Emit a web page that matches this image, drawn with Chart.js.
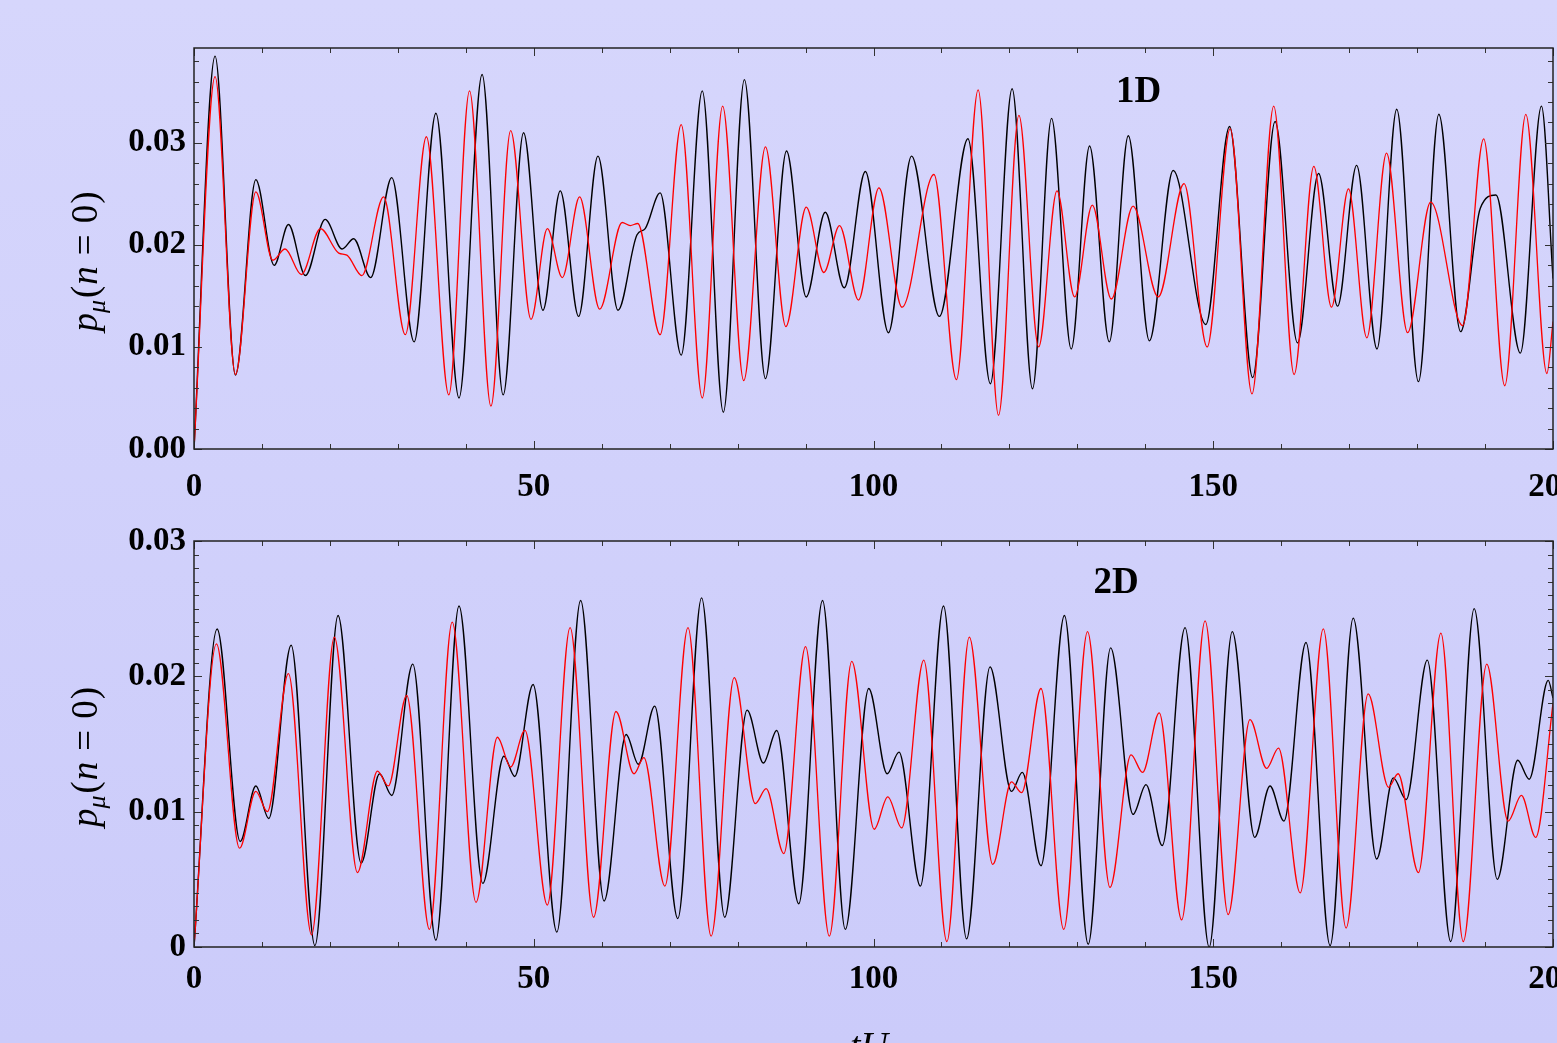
<!DOCTYPE html>
<html>
<head>
<meta charset="utf-8">
<script src="https://cdn.jsdelivr.net/npm/chart.js@4.4.1/dist/chart.umd.min.js"></script>
<style>
  html, body { margin: 0; padding: 0; }
  body {
    width: 1557px; height: 1043px; overflow: hidden; position: relative;
    background: linear-gradient(#d6d6fc, #cbcbfa);
  }
  canvas { position: absolute; left: 0; }
  #c1 { top: 0; }
  #c2 { top: 520px; }
</style>
</head>
<body>
<canvas id="c1" width="1557" height="520"></canvas>
<canvas id="c2" width="1557" height="523"></canvas>
<script>
// turning points of each curve (t, p)
const t1dBlack = [0, 3.1, 6.1, 9.1, 11.8, 13.9, 16.4, 19.3, 21.8, 23.5, 26.0, 29.1, 32.4, 35.6, 39.0, 42.4, 45.5, 48.5, 51.35, 53.9, 56.6, 59.45, 62.4, 65.2, 66.4, 68.6, 71.7, 74.8, 77.9, 81.0, 84.1, 87.2, 90.1, 92.9, 95.7, 98.8, 102.2, 105.6, 109.7, 113.9, 117.2, 120.4, 123.4, 126.2, 129.1, 131.8, 134.7, 137.5, 140.6, 144.1, 148.9, 152.4, 155.8, 159.1, 162.4, 165.5, 168.3, 171.1, 174.1, 177.0, 180.2, 183.2, 186.4, 189.3, 191.6, 195.2, 198.3, 200];
const p1dBlack = [0, .0385, .00725, .0264, .0180, .0220, .0170, .0225, .0196, .0206, .0168, .0266, .0105, .0329, .0050, .0367, .0053, .0310, .0136, .0253, .0130, .0287, .0136, .0210, .0216, .0251, .0092, .0351, .0036, .0362, .0069, .0292, .0149, .0232, .0158, .0272, .0114, .0287, .0130, .0304, .0064, .0353, .0059, .0324, .0098, .0297, .0105, .0307, .0106, .0273, .0122, .0316, .0070, .0321, .0104, .0270, .0140, .0278, .0098, .0333, .0066, .0328, .0115, .0236, .0249, .0094, .0336, .0167];

const t1dRed = [0, 3.1, 6.1, 9.1, 11.6, 13.4, 15.8, 18.6, 21.3, 22.5, 24.7, 27.9, 31.1, 34.2, 37.5, 40.55, 43.7, 46.6, 49.6, 52.0, 54.2, 56.75, 59.7, 63.0, 64.2, 65.3, 68.6, 71.7, 74.8, 77.8, 80.9, 84.1, 87.1, 90.1, 92.7, 95.0, 97.8, 100.8, 104.2, 108.9, 112.2, 115.4, 118.4, 121.4, 124.3, 127.0, 129.6, 132.2, 135.0, 138.2, 141.9, 145.7, 149.1, 152.5, 155.7, 158.9, 161.9, 164.8, 167.4, 169.9, 172.6, 175.5, 178.6, 182.0, 186.7, 189.8, 192.9, 196.0, 199.1, 200];
const p1dRed = [0, .0365, .0073, .0252, .0185, .0196, .0171, .0216, .0192, .0190, .0170, .0247, .0112, .0306, .0053, .0351, .0042, .0312, .0127, .0216, .0168, .0247, .0137, .0222, .0219, .0221, .0112, .0318, .0050, .0336, .0067, .0296, .0120, .0237, .0173, .0219, .0146, .0256, .0139, .0269, .0068, .0352, .0033, .0327, .0100, .0253, .0149, .0239, .0147, .0238, .0149, .0260, .0100, .0314, .0054, .0336, .0073, .0277, .0139, .0255, .0109, .0290, .0114, .0242, .0121, .0304, .0062, .0328, .0074, .0125];

const t2dBlack = [0, 3.4, 6.8, 9.1, 11.0, 14.3, 17.8, 21.2, 24.6, 27.3, 29.1, 32.2, 35.6, 39.0, 42.5, 45.6, 47.2, 49.9, 53.4, 56.9, 60.35, 63.6, 65.4, 67.8, 71.2, 74.7, 78.1, 81.4, 83.8, 85.75, 89.0, 92.5, 95.85, 99.3, 102.0, 103.75, 106.9, 110.3, 113.7, 117.15, 120.3, 121.9, 124.65, 128.1, 131.6, 134.9, 138.2, 140.1, 142.5, 145.85, 149.4, 152.8, 156.1, 158.35, 160.4, 163.65, 167.2, 170.6, 174.05, 176.5, 178.4, 181.5, 184.95, 188.4, 191.8, 194.8, 196.5, 199.3, 200];
const p2dBlack = [0, .0235, .0078, .0119, .0095, .0223, .0001, .0245, .0062, .0128, .0112, .0209, .0005, .0252, .0047, .0141, .0126, .0194, .0011, .0256, .0034, .0157, .0135, .0178, .0021, .0258, .0022, .0175, .0136, .0160, .0032, .0256, .0013, .0191, .0128, .0144, .0045, .0252, .0006, .0207, .0115, .0129, .0060, .0245, .0002, .0221, .0098, .0120, .0075, .0236, .0000, .0233, .0081, .0119, .0093, .0225, .0001, .0243, .0065, .0125, .0109, .0212, .0004, .0250, .0050, .0138, .0124, .0197, .0184];

const t2dRed = [0, 3.3, 6.7, 9.1, 10.8, 13.9, 17.3, 20.65, 24.05, 27.0, 28.6, 31.3, 34.65, 38.0, 41.5, 44.65, 46.6, 48.7, 52.0, 55.35, 58.8, 62.1, 64.75, 66.2, 69.3, 72.7, 76.1, 79.5, 82.6, 84.2, 86.8, 90.0, 93.5, 96.8, 100.1, 102.1, 104.15, 107.4, 110.8, 114.1, 117.55, 120.3, 121.8, 124.65, 128.0, 131.5, 134.8, 137.9, 139.6, 142.05, 145.35, 148.8, 152.2, 155.4, 157.85, 159.6, 162.8, 166.2, 169.55, 172.8, 175.8, 177.2, 180.2, 183.5, 186.8, 190.25, 193.4, 195.35, 197.45, 200];
const p2dRed = [0, .0224, .0073, .0115, .0100, .0202, .0009, .0229, .0055, .0130, .0119, .0186, .0013, .0240, .0033, .0155, .0133, .0160, .0031, .0236, .0022, .0174, .0128, .0140, .0045, .0236, .0008, .0199, .0106, .0117, .0069, .0222, .0008, .0211, .0087, .0111, .0088, .0212, .0004, .0229, .0061, .0122, .0114, .0191, .0013, .0233, .0044, .0142, .0129, .0173, .0020, .0241, .0024, .0168, .0132, .0147, .0040, .0235, .0014, .0187, .0118, .0128, .0055, .0232, .0004, .0209, .0093, .0112, .0081, .0180];

const xTicks = [0, 50, 100, 150, 200];
const yTicks1d = [0, 0.01, 0.02, 0.03];
const yTicks2d = [0, 0.01, 0.02, 0.03];

(function () {
  "use strict";

  const serif = '"Liberation Serif", "DejaVu Serif", serif';
  const tickFont = { family: serif, size: 33, weight: "bold" };

  function pts(ts, ps) {
    return ts.map(function (t, i) { return { x: t, y: ps[i] }; });
  }

  // inward Mathematica-style ticks on all four sides + frame + texts
  function framePlugin(cfg) {
    return {
      id: "frame",
      afterDatasetsDraw: function (chart) {
        const ctx = chart.ctx;
        const a = chart.chartArea;
        const xs = chart.scales.x, ys = chart.scales.y;
        ctx.save();
        ctx.strokeStyle = "#333";
        ctx.lineWidth = 1;
        ctx.beginPath();
        for (let v = 0; v <= 200; v += 10) {
          const px = Math.round(xs.getPixelForValue(v)) + 0.5;
          const len = v % 50 === 0 ? 8 : 5;
          ctx.moveTo(px, a.bottom); ctx.lineTo(px, a.bottom - len);
          ctx.moveTo(px, a.top); ctx.lineTo(px, a.top + len);
        }
        const n = Math.floor(cfg.yMax / cfg.minor + 1e-6);
        for (let i = 0; i <= n; i++) {
          const v = i * cfg.minor;
          const py = Math.round(ys.getPixelForValue(v)) + 0.5;
          const major = Math.abs(v / 0.01 - Math.round(v / 0.01)) < 1e-6;
          const len = major ? 8 : 5;
          ctx.moveTo(a.left, py); ctx.lineTo(a.left + len, py);
          ctx.moveTo(a.right, py); ctx.lineTo(a.right - len, py);
        }
        ctx.stroke();
        ctx.lineWidth = 1.5;
        ctx.strokeStyle = "#222";
        ctx.strokeRect(a.left, a.top, a.right - a.left, a.bottom - a.top);

        // panel label
        ctx.fillStyle = "#000";
        ctx.font = "bold 37px " + serif;
        ctx.textAlign = "center";
        ctx.textBaseline = "middle";
        ctx.fillText(cfg.label, xs.getPixelForValue(cfg.labelAt[0]), ys.getPixelForValue(cfg.labelAt[1]));

        // y title p_mu(n = 0)
        const parts = [
          { s: "p", f: "italic 37px " + serif, dy: 0, gap: 0 },
          { s: "\u03bc", f: "italic 26px " + serif, dy: 8, gap: 2 },
          { s: "(", f: "37px " + serif, dy: 0, gap: 1 },
          { s: "n", f: "italic 37px " + serif, dy: 0, gap: 11 },
          { s: "=", f: "37px " + serif, dy: 0, gap: 11 },
          { s: "0", f: "37px " + serif, dy: 0, gap: 1 },
          { s: ")", f: "37px " + serif, dy: 0, gap: 0 }
        ];
        let w = 0;
        parts.forEach(function (p) { ctx.font = p.f; p.w = ctx.measureText(p.s).width; w += p.w + p.gap; });
        ctx.translate(97, (a.top + a.bottom) / 2 + 13);
        ctx.rotate(-Math.PI / 2);
        ctx.textAlign = "left";
        ctx.textBaseline = "alphabetic";
        let x = -w / 2;
        parts.forEach(function (p) { ctx.font = p.f; ctx.fillText(p.s, x, p.dy); x += p.w + p.gap; });
        ctx.restore();

        if (cfg.xTitle) {
          ctx.save();
          ctx.fillStyle = "#000";
          ctx.font = "italic 38px " + serif;
          ctx.textAlign = "center";
          ctx.textBaseline = "alphabetic";
          ctx.fillText(cfg.xTitle, 869, chart.height + 15);
          ctx.restore();
        }
      }
    };
  }

  function makePanel(id, red, black, cfg) {
    return new Chart(document.getElementById(id), {
      type: "line",
      data: {
        datasets: [
          { data: red, borderColor: "#ff0000", borderWidth: 1.3 },
          { data: black, borderColor: "#000000", borderWidth: 1.4 }
        ]
      },
      options: {
        responsive: false,
        animation: false,
        events: [],
        layout: { padding: { top: cfg.padTop, right: 4, left: 0, bottom: 0 } },
        elements: {
          point: { radius: 0 },
          line: { cubicInterpolationMode: "monotone", fill: false }
        },
        plugins: { legend: { display: false }, tooltip: { enabled: false } },
        scales: {
          x: {
            type: "linear", min: 0, max: 200,
            afterBuildTicks: function (s) { s.ticks = xTicks.map(function (v) { return { value: v }; }); },
            ticks: { font: tickFont, color: "#000", padding: cfg.xPad, maxRotation: 0, autoSkip: false },
            grid: { display: false, drawTicks: false },
            border: { display: false },
            afterFit: function (s) { s.height = cfg.xAxisH; s.paddingLeft = 0; s.paddingRight = 0; }
          },
          y: {
            type: "linear", min: 0, max: cfg.yMax,
            afterBuildTicks: function (s) { s.ticks = cfg.yTicks.map(function (v) { return { value: v }; }); },
            ticks: { font: tickFont, color: "#000", padding: 8, callback: cfg.yFmt },
            grid: { display: false, drawTicks: false },
            border: { display: false },
            afterFit: function (s) { s.width = 194; s.paddingTop = 0; s.paddingBottom = 0; }
          }
        }
      },
      plugins: [framePlugin(cfg)]
    });
  }

  makePanel("c1", pts(t1dRed, p1dRed), pts(t1dBlack, p1dBlack), {
    padTop: 48, xAxisH: 71, xPad: 19, yMax: 0.0393, minor: 0.002,
    yTicks: yTicks1d,
    yFmt: function (v) { return v.toFixed(2); },
    label: "1D", labelAt: [139, 0.0349]
  });

  makePanel("c2", pts(t2dRed, p2dRed), pts(t2dBlack, p2dBlack), {
    padTop: 21, xAxisH: 96, xPad: 13, yMax: 0.03, minor: 0.001,
    yTicks: yTicks2d,
    yFmt: function (v) { return v === 0 ? "0" : v.toFixed(2); },
    label: "2D", labelAt: [135.7, 0.0269],
    xTitle: "tU"
  });
})();
</script>
</body>
</html>
